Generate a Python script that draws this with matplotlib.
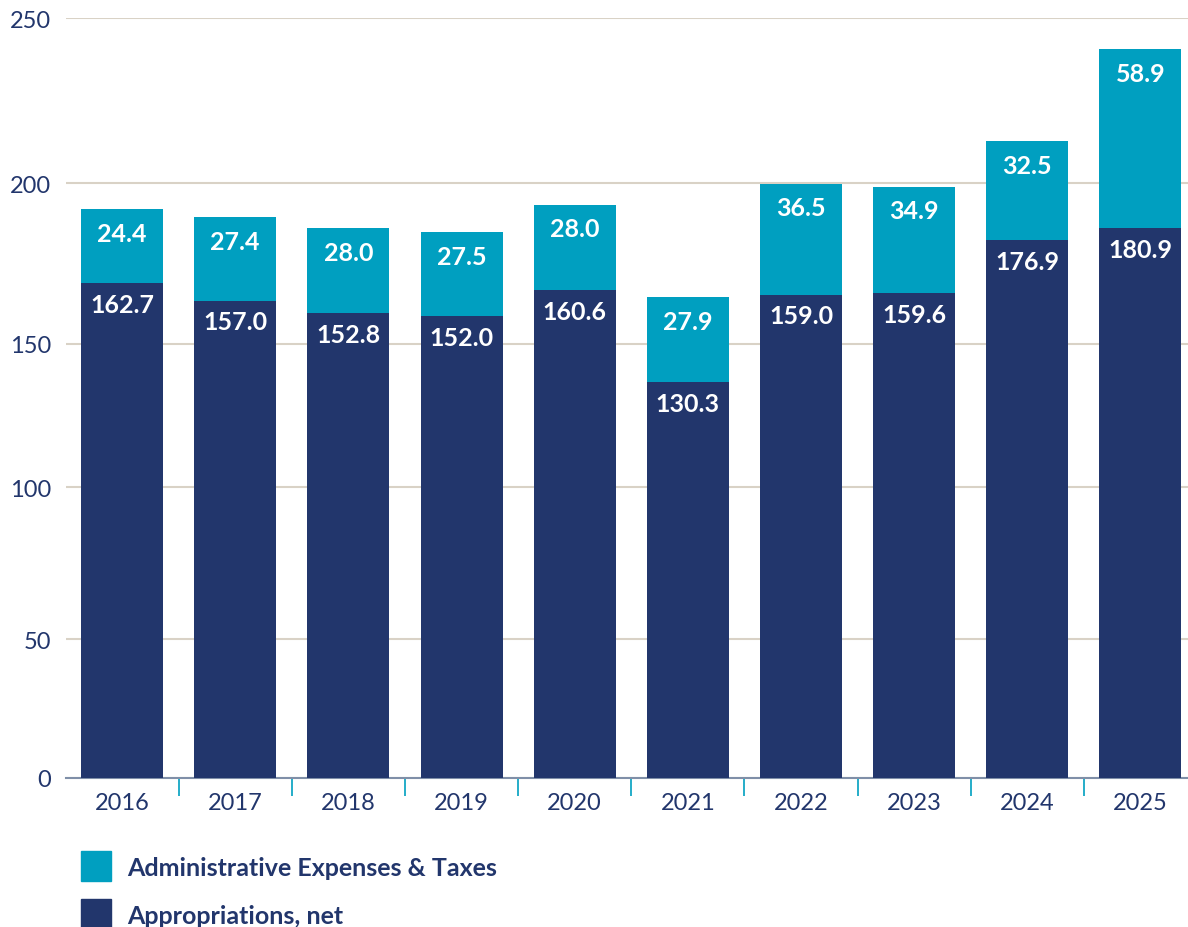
import matplotlib
matplotlib.use("Agg")
import matplotlib.pyplot as plt
from matplotlib.patches import Rectangle

years = ["2016", "2017", "2018", "2019", "2020", "2021", "2022", "2023", "2024", "2025"]
appropriations = [162.7, 157.0, 152.8, 152.0, 160.6, 130.3, 159.0, 159.6, 176.9, 180.9]
admin = [24.4, 27.4, 28.0, 27.5, 28.0, 27.9, 36.5, 34.9, 32.5, 58.9]
ytick_labels = ["0", "50", "100", "150", "200", "250"]
# gridline positions as drawn in the reference (its gridlines are not evenly spaced)
ytick_pos = [0, 45.7, 95.7, 142.8, 195.7, 250]

NAVY = "#22366c"
TEAL = "#009fc0"
GRID = "#d9d2c6"

plt.rcParams['font.family'] = ['Lato', 'DejaVu Sans']

fig = plt.figure(figsize=(11.88, 9.28), dpi=100)
ax = fig.add_axes([0.0556, 0.1606, 0.9444, 0.8189])

x = list(range(len(years)))
w = 0.725
ax.bar(x, appropriations, width=w, color=NAVY, zorder=3)
ax.bar(x, admin, width=w, bottom=appropriations, color=TEAL, zorder=3)

for xi, a, b in zip(x, appropriations, admin):
    ax.annotate(f"{a:.1f}", (xi, a), xytext=(0, -7), textcoords="offset points",
                ha="center", va="top", color="white", fontsize=18, fontweight="bold", zorder=4)
    ax.annotate(f"{b:.1f}", (xi, a + b), xytext=(0, -9), textcoords="offset points",
                ha="center", va="top", color="white", fontsize=18, fontweight="bold", zorder=4)

ax.set_xlim(-0.495, len(years) - 0.58)
ax.set_ylim(0, 250)
ax.set_yticks(ytick_pos)
ax.set_yticklabels(ytick_labels, color=NAVY, fontsize=17, fontweight="normal")
ax.tick_params(axis="y", length=0, pad=11)
ax.grid(axis="y", color=GRID, linewidth=1.5, zorder=0)
ax.set_axisbelow(True)

ax.set_xticks(x)
ax.set_xticklabels(years, color=NAVY, fontsize=17, fontweight="normal")
ax.tick_params(axis="x", length=0, pad=10)
ax.set_xticks([i + 0.5 for i in range(len(years) - 1)], minor=True)
ax.tick_params(axis="x", which="minor", length=13, width=1.2, color=TEAL, direction="out")

for s in ["top", "right", "left"]:
    ax.spines[s].set_visible(False)
ax.spines["bottom"].set_color("#7f8fa8")
ax.spines["bottom"].set_linewidth(1.5)

# legend
labels = ["Administrative Expenses & Taxes", "Appropriations, net"]
colors = [TEAL, NAVY]
ys = [852, 900]
H = 928.0
W = 1188.0
for lab, col, yy in zip(labels, colors, ys):
    fig.patches.append(Rectangle((81 / W, 1 - (yy + 30) / H), 30 / W, 30 / H,
                                 transform=fig.transFigure, color=col, figure=fig))
    fig.text(127 / W, 1 - (yy + 17) / H, lab, color=NAVY, fontsize=18,
             fontweight="bold", va="center", ha="left")

fig.savefig("out.png", dpi=100)
